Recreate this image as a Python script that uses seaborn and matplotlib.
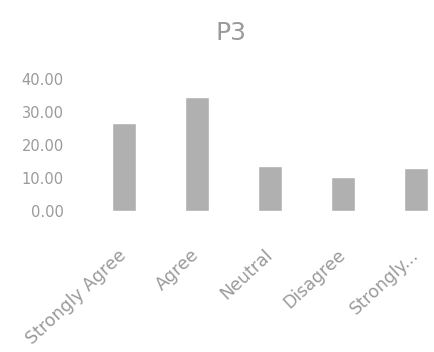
import pandas as pd
import matplotlib
matplotlib.use('Agg')
import matplotlib.pyplot as plt
import seaborn as sns

# Values
categories = ['Strongly Agree', 'Agree', 'Neutral', 'Disagree', 'Strongly...']
values = [26.5, 34.5, 13.5, 10.3, 13.0]
y_ticks = [0, 10, 20, 30, 40]

data = pd.DataFrame({'Response': categories, 'Percent': values})

sns.set_style('white')
plt.rcParams['font.family'] = ['DejaVu Sans']

fig = plt.figure(figsize=(4.35, 3.52), dpi=100)
ax = fig.add_axes([0.207, 0.4006, 0.793, 0.398])

sns.barplot(x='Response', y='Percent', data=data, color='#b0b0b0',
            width=0.33, ax=ax)

ax.set_xlim(-0.46, 4.26)
ax.set_ylim(0, 42.4)
ax.set_yticks(y_ticks)
ax.set_yticklabels([f'{v:.2f}' for v in y_ticks], color='#9a9a9a', fontsize=10.5)
ax.set_xticks(range(len(categories)))
ax.set_xticklabels(categories, rotation=43, ha='right', va='center',
                   rotation_mode='anchor', color='#9a9a9a', fontsize=12.5)
ax.tick_params(axis='y', length=0, pad=19)
ax.tick_params(axis='x', length=0, pad=30)
ax.set_xlabel('')
ax.set_ylabel('')
sns.despine(ax=ax, left=True, bottom=True)

fig.text(0.531, 0.906, 'P3', ha='center', va='center', fontsize=18, color='#9a9a9a')

plt.savefig('out.png', dpi=100)
